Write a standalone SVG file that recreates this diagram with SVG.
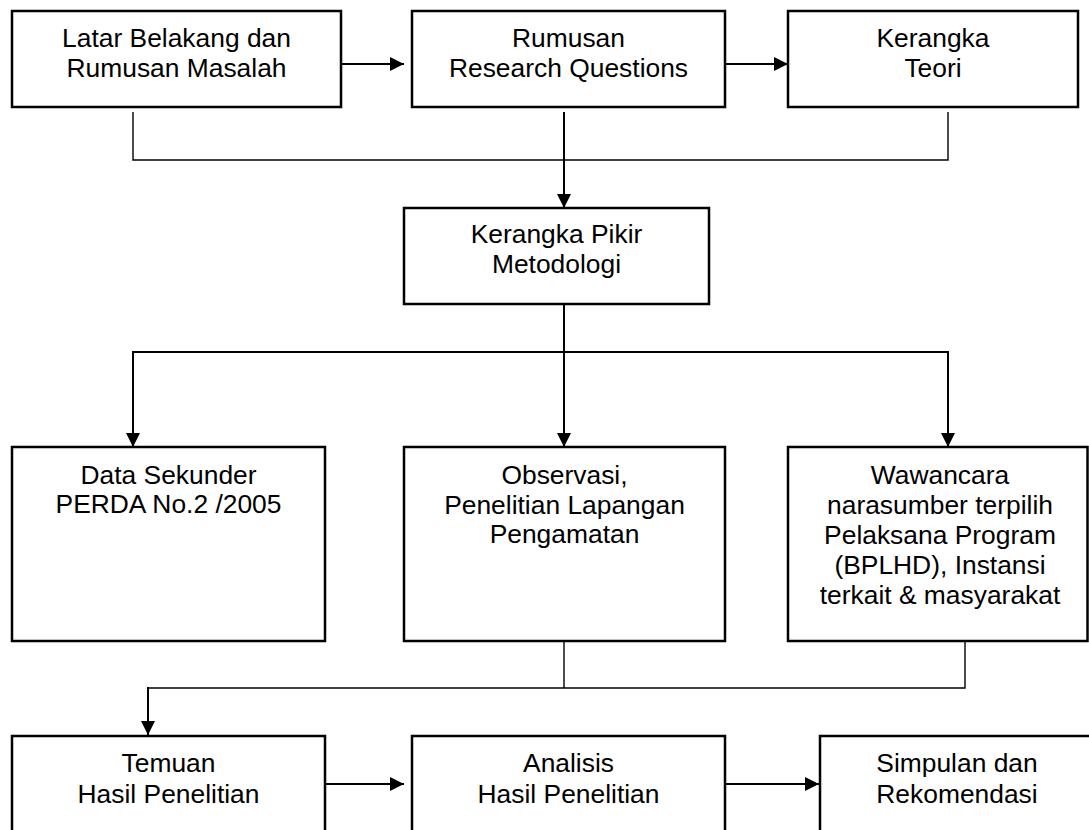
<svg xmlns="http://www.w3.org/2000/svg" width="1089" height="830" viewBox="0 0 1089 830">
<style>
.box{fill:#fff;stroke:#000;stroke-width:2.5}
.t{font-family:"Liberation Sans",Arial,sans-serif;font-size:26.4px;fill:#000;text-anchor:middle}
.arr{fill:none;stroke:#000;stroke-width:2;marker-end:url(#ah)}
.ln{fill:none;stroke:#000;stroke-width:2}
.thin{fill:none;stroke:#000;stroke-width:1.4}
</style>
<defs>
<marker id="ah" markerUnits="userSpaceOnUse" markerWidth="15" markerHeight="15" refX="14" refY="7.5" orient="auto" viewBox="0 0 15 15">
<path d="M0,0.5 L14,7.5 L0,14.5 z" fill="#000"/>
</marker>
</defs>
<rect width="1089" height="830" fill="#fff"/>
<g id="connectors">
<line class="arr" x1="341" y1="64" x2="404" y2="64"/>
<line class="arr" x1="725" y1="64" x2="788" y2="64"/>
<polyline class="thin" points="133,112 133,160 948,160 948,112"/>
<line class="arr" x1="564" y1="112" x2="564" y2="208"/>
<line class="arr" x1="564" y1="304" x2="564" y2="447"/>
<line class="ln" x1="133" y1="352" x2="948" y2="352"/>
<line class="arr" x1="133" y1="351" x2="133" y2="447"/>
<line class="arr" x1="948" y1="351" x2="948" y2="447"/>
<line class="thin" x1="564" y1="641" x2="564" y2="688"/>
<polyline class="thin" points="965,641 965,688 148,688"/>
<line class="arr" x1="148" y1="687" x2="148" y2="735"/>
<line class="arr" x1="325" y1="784" x2="404" y2="784"/>
<line class="arr" x1="725" y1="784" x2="819" y2="784"/>
</g>
<g id="n1"><rect class="box" x="12" y="11" width="329" height="96"/>
<text class="t" x="176.5" y="47">Latar Belakang dan</text><text class="t" x="176.5" y="77">Rumusan Masalah</text></g>
<g id="n2"><rect class="box" x="412" y="11" width="313" height="96"/>
<text class="t" x="568.5" y="47">Rumusan</text><text class="t" x="568.5" y="77">Research Questions</text></g>
<g id="n3"><rect class="box" x="788" y="11" width="290" height="96"/>
<text class="t" x="933" y="47">Kerangka</text><text class="t" x="933" y="77">Teori</text></g>
<g id="n4"><rect class="box" x="404" y="208" width="305" height="96"/>
<text class="t" x="556.5" y="243">Kerangka Pikir</text><text class="t" x="556.5" y="273">Metodologi</text></g>
<g id="n5"><rect class="box" x="12" y="447" width="313" height="194"/>
<text class="t" x="168.5" y="484">Data Sekunder</text><text class="t" x="168.5" y="513">PERDA No.2 /2005</text></g>
<g id="n6"><rect class="box" x="404" y="447" width="321" height="194"/>
<text class="t" x="564.5" y="484">Observasi,</text><text class="t" x="564.5" y="514">Penelitian Lapangan</text><text class="t" x="564.5" y="543">Pengamatan</text></g>
<g id="n7"><rect class="box" x="788" y="447" width="299.5" height="194"/>
<text class="t" x="940" y="484">Wawancara</text><text class="t" x="940" y="514">narasumber terpilih</text><text class="t" x="940" y="544">Pelaksana Program</text><text class="t" x="940" y="574">(BPLHD), Instansi</text><text class="t" x="940" y="604">terkait &amp; masyarakat</text></g>
<g id="n8"><rect class="box" x="12" y="736" width="313" height="120"/>
<text class="t" x="168.5" y="772">Temuan</text><text class="t" x="168.5" y="803">Hasil Penelitian</text></g>
<g id="n9"><rect class="box" x="412" y="736" width="313" height="120"/>
<text class="t" x="568.5" y="772">Analisis</text><text class="t" x="568.5" y="803">Hasil Penelitian</text></g>
<g id="n10"><rect class="box" x="820" y="736" width="274" height="120"/>
<text class="t" x="957" y="772">Simpulan dan</text><text class="t" x="957" y="803">Rekomendasi</text></g>
</svg>
